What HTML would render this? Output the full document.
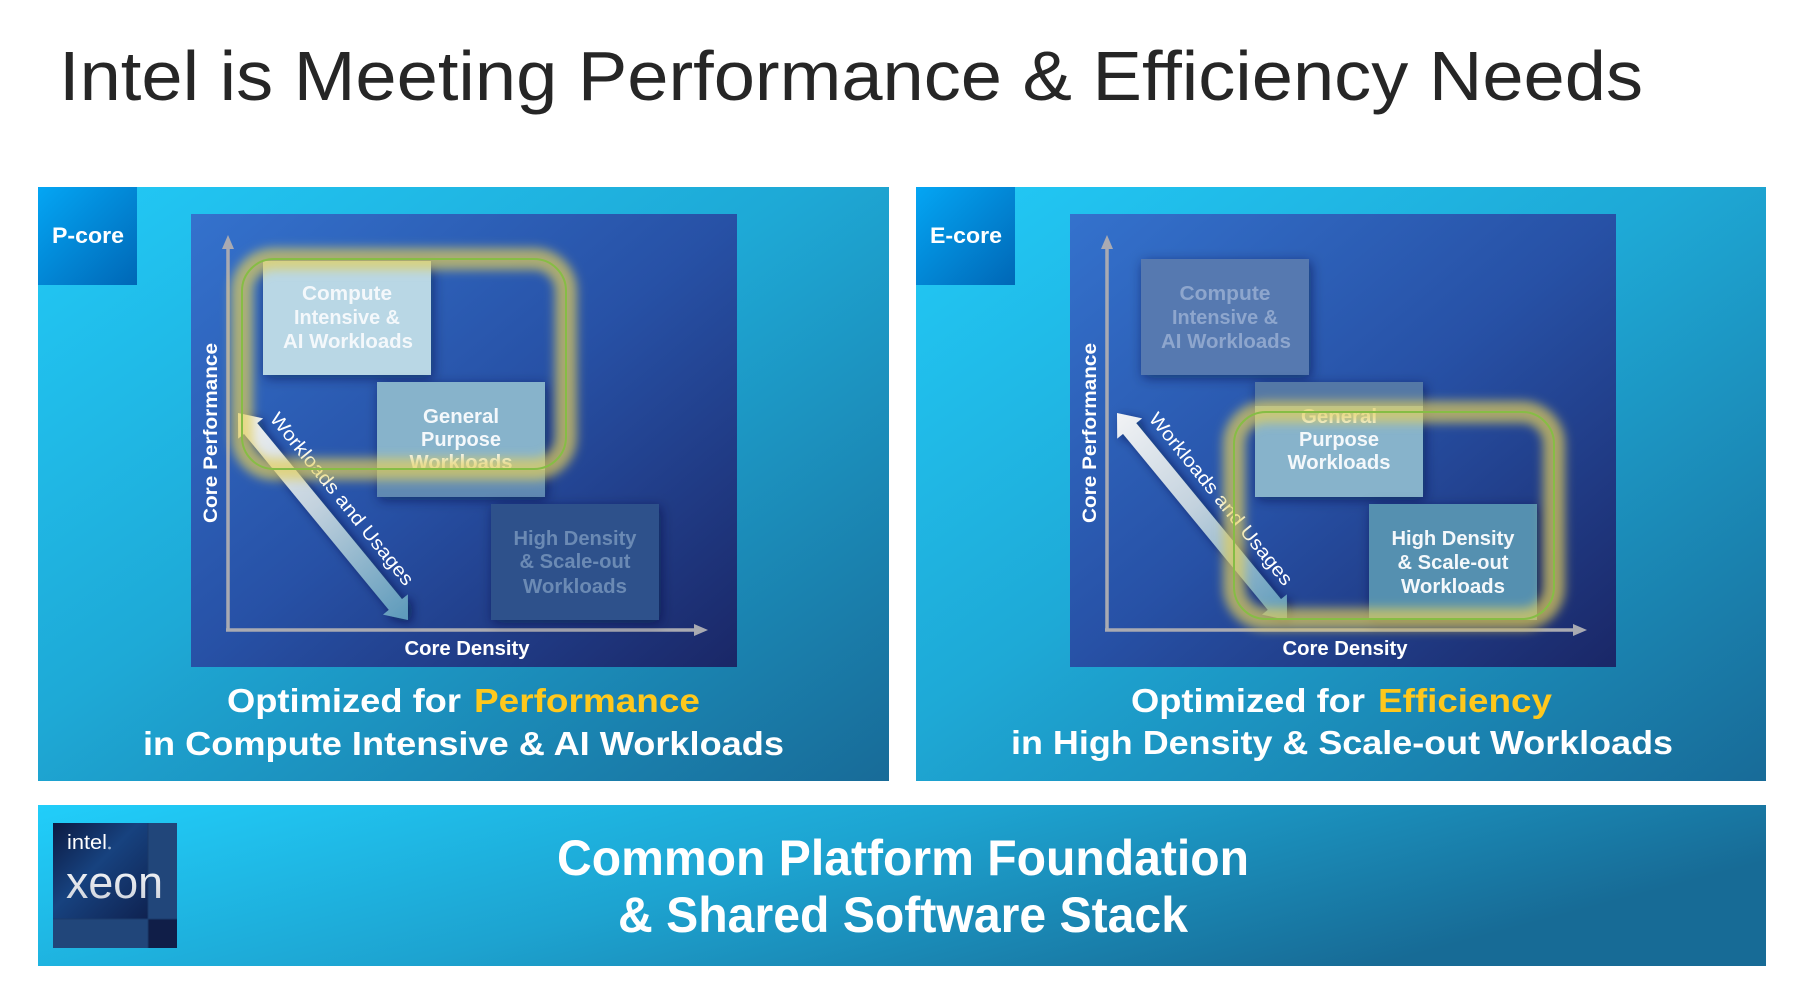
<!DOCTYPE html>
<html>
<head>
<meta charset="utf-8">
<style>
  html,body{margin:0;padding:0;background:#ffffff;}
  svg{display:block;}
  text{font-family:"Liberation Sans",Arial,sans-serif;}
</style>
</head>
<body>
<svg width="1803" height="998" viewBox="0 0 1803 998" xmlns="http://www.w3.org/2000/svg">
  <defs>
    <linearGradient id="panelGrad" x1="0" y1="0" x2="1" y2="1">
      <stop offset="0" stop-color="#22caf7"/>
      <stop offset="0.45" stop-color="#1ea9d6"/>
      <stop offset="1" stop-color="#186b98"/>
    </linearGradient>
    <linearGradient id="bandGrad" x1="0" y1="0" x2="1" y2="0.35">
      <stop offset="0" stop-color="#21cefa"/>
      <stop offset="0.5" stop-color="#1da3d0"/>
      <stop offset="1" stop-color="#176b96"/>
    </linearGradient>
    <linearGradient id="chartGrad" x1="0" y1="0" x2="1" y2="1">
      <stop offset="0" stop-color="#3472cd"/>
      <stop offset="0.5" stop-color="#2751a6"/>
      <stop offset="1" stop-color="#1a2767"/>
    </linearGradient>
    <linearGradient id="coreGrad" x1="0" y1="0" x2="1" y2="1">
      <stop offset="0" stop-color="#04a6f4"/>
      <stop offset="1" stop-color="#0067b6"/>
    </linearGradient>
    <linearGradient id="arrowGrad" gradientUnits="userSpaceOnUse" x1="238" y1="413" x2="408" y2="620">
      <stop offset="0" stop-color="#f2f3f5"/>
      <stop offset="0.45" stop-color="#c3d2de"/>
      <stop offset="1" stop-color="#5b99ba"/>
    </linearGradient>
    <linearGradient id="genLeftGrad" x1="0" y1="0" x2="0" y2="1">
      <stop offset="0" stop-color="#87b3cb"/>
      <stop offset="1" stop-color="#5f88b2"/>
    </linearGradient>
    <linearGradient id="xeonGrad" x1="0" y1="0" x2="1" y2="1">
      <stop offset="0" stop-color="#0c1a42"/>
      <stop offset="0.45" stop-color="#17427f"/>
      <stop offset="1" stop-color="#0f2250"/>
    </linearGradient>
    <linearGradient id="xeonText" x1="0" y1="0" x2="0" y2="1">
      <stop offset="0" stop-color="#ffffff"/>
      <stop offset="1" stop-color="#c9ced8"/>
    </linearGradient>
    <filter id="shadow" x="-30%" y="-30%" width="160%" height="160%">
      <feDropShadow dx="2" dy="3" stdDeviation="6" flood-color="#06123a" flood-opacity="0.55"/>
    </filter>
    <filter id="ashadow" x="-30%" y="-30%" width="160%" height="160%">
      <feDropShadow dx="4" dy="3" stdDeviation="5" flood-color="#06123a" flood-opacity="0.6"/>
    </filter>
    <filter id="glow" x="-20%" y="-20%" width="140%" height="140%">
      <feGaussianBlur stdDeviation="5"/>
    </filter>
  </defs>

  <!-- Title -->
  <text x="59" y="100" font-size="70" fill="#262626" textLength="1584" lengthAdjust="spacingAndGlyphs">Intel is Meeting Performance &amp; Efficiency Needs</text>

  <!-- Panels -->
  <rect x="38" y="187" width="851" height="594" fill="url(#panelGrad)"/>
  <rect x="916" y="187" width="850" height="594" fill="url(#panelGrad)"/>

  <!-- Core badges -->
  <rect x="38" y="187" width="99" height="98" fill="url(#coreGrad)"/>
  <text x="52" y="243" font-size="22" font-weight="bold" fill="#ffffff" textLength="72" lengthAdjust="spacingAndGlyphs">P-core</text>
  <rect x="916" y="187" width="99" height="98" fill="url(#coreGrad)"/>
  <text x="930" y="243" font-size="22" font-weight="bold" fill="#ffffff" textLength="72" lengthAdjust="spacingAndGlyphs">E-core</text>

  <!-- ===== LEFT CHART ===== -->
  <rect x="191" y="214" width="546" height="453" fill="url(#chartGrad)"/>
  <line x1="228" y1="246" x2="228" y2="631" stroke="#a9aab2" stroke-width="3.5"/>
  <polygon points="228,235 222,249 234,249" fill="#a9aab2"/>
  <line x1="226" y1="630" x2="696" y2="630" stroke="#a9aab2" stroke-width="3.5"/>
  <polygon points="708,630 694,624 694,636" fill="#a9aab2"/>
  <text transform="translate(217,433) rotate(-90)" text-anchor="middle" font-size="19" font-weight="bold" fill="#ffffff" textLength="180" lengthAdjust="spacingAndGlyphs">Core Performance</text>
  <text x="467" y="655" text-anchor="middle" font-size="20" font-weight="bold" fill="#ffffff" textLength="125" lengthAdjust="spacingAndGlyphs">Core Density</text>

  <g filter="url(#shadow)">
    <rect x="263" y="261" width="168" height="114" fill="#b9d7e5"/>
  </g>
  <g filter="url(#shadow)">
    <rect x="377" y="382" width="168" height="115" fill="url(#genLeftGrad)"/>
  </g>
  <rect x="377" y="382" width="168" height="88" fill="#87b3cb"/>
  <g filter="url(#shadow)">
    <rect x="491" y="504" width="168" height="116" fill="#2d518b"/>
  </g>
  <g font-size="20" font-weight="bold" text-anchor="middle" fill="#f4f8fb">
    <text x="347" y="300" textLength="90" lengthAdjust="spacingAndGlyphs">Compute</text>
    <text x="347" y="324" textLength="106" lengthAdjust="spacingAndGlyphs">Intensive &amp;</text>
    <text x="348" y="348" textLength="130" lengthAdjust="spacingAndGlyphs">AI Workloads</text>
    <text x="461" y="423" textLength="76" lengthAdjust="spacingAndGlyphs">General</text>
    <text x="461" y="446" textLength="80" lengthAdjust="spacingAndGlyphs">Purpose</text>
    <text x="461" y="469" textLength="103" lengthAdjust="spacingAndGlyphs">Workloads</text>
  </g>
  <g font-size="20" font-weight="bold" text-anchor="middle" fill="#6b8ab4">
    <text x="575" y="545" textLength="123" lengthAdjust="spacingAndGlyphs">High Density</text>
    <text x="575" y="568" textLength="111" lengthAdjust="spacingAndGlyphs">&amp; Scale-out</text>
    <text x="575" y="593" textLength="104" lengthAdjust="spacingAndGlyphs">Workloads</text>
  </g>

  <!-- arrow left -->
  <polygon filter="url(#ashadow)" fill="url(#arrowGrad)" points="238,413 263.1,418.4 257.2,423.1 402.0,599.1 407.9,594.4 408,620 383.0,614.6 388.8,609.9 244.0,433.9 238.2,438.6"/>
  <text transform="translate(269,419) rotate(51)" font-size="19" fill="#ffffff" textLength="216" lengthAdjust="spacingAndGlyphs">Workloads and Usages</text>

  <!-- glow left -->
  <rect x="242" y="259" width="324" height="210" rx="32" ry="32" fill="none" stroke="#e2cf58" stroke-width="22" stroke-opacity="0.7" filter="url(#glow)"/>
  <rect x="242" y="259" width="324" height="210" rx="32" ry="32" fill="none" stroke="#86bd45" stroke-width="2"/>

  <!-- ===== RIGHT CHART ===== -->
  <g transform="translate(879,0)">
    <rect x="191" y="214" width="546" height="453" fill="url(#chartGrad)"/>
    <line x1="228" y1="246" x2="228" y2="631" stroke="#a9aab2" stroke-width="3.5"/>
    <polygon points="228,235 222,249 234,249" fill="#a9aab2"/>
    <line x1="226" y1="630" x2="696" y2="630" stroke="#a9aab2" stroke-width="3.5"/>
    <polygon points="708,630 694,624 694,636" fill="#a9aab2"/>
    <text transform="translate(217,433) rotate(-90)" text-anchor="middle" font-size="19" font-weight="bold" fill="#ffffff" textLength="180" lengthAdjust="spacingAndGlyphs">Core Performance</text>
    <text x="466" y="655" text-anchor="middle" font-size="20" font-weight="bold" fill="#ffffff" textLength="125" lengthAdjust="spacingAndGlyphs">Core Density</text>

    <g filter="url(#shadow)">
      <rect x="262" y="259" width="168" height="116" fill="#5779b0"/>
    </g>
    <g filter="url(#shadow)">
      <rect x="376" y="382" width="168" height="115" fill="#87b3cb"/>
    </g>
    <rect x="376" y="382" width="168" height="24" fill="#5478a6"/>
    <g filter="url(#shadow)">
      <rect x="490" y="504" width="168" height="116" fill="#5590b0"/>
    </g>
    <g font-size="20" font-weight="bold" text-anchor="middle" fill="#8ea6cd">
      <text x="346" y="300" textLength="91" lengthAdjust="spacingAndGlyphs">Compute</text>
      <text x="346" y="324" textLength="106" lengthAdjust="spacingAndGlyphs">Intensive &amp;</text>
      <text x="347" y="348" textLength="130" lengthAdjust="spacingAndGlyphs">AI Workloads</text>
    </g>
    <g font-size="20" font-weight="bold" text-anchor="middle" fill="#f4f8fb">
      <text x="460" y="423" textLength="76" lengthAdjust="spacingAndGlyphs">General</text>
      <text x="460" y="446" textLength="80" lengthAdjust="spacingAndGlyphs">Purpose</text>
      <text x="460" y="469" textLength="103" lengthAdjust="spacingAndGlyphs">Workloads</text>
      <text x="574" y="545" textLength="123" lengthAdjust="spacingAndGlyphs">High Density</text>
      <text x="574" y="569" textLength="111" lengthAdjust="spacingAndGlyphs">&amp; Scale-out</text>
      <text x="574" y="593" textLength="104" lengthAdjust="spacingAndGlyphs">Workloads</text>
    </g>

    <polygon filter="url(#ashadow)" fill="url(#arrowGrad)" points="238,413 263.1,418.4 257.2,423.1 402.0,599.1 407.9,594.4 408,620 383.0,614.6 388.8,609.9 244.0,433.9 238.2,438.6"/>
    <text transform="translate(269,419) rotate(51)" font-size="19" fill="#ffffff" textLength="216" lengthAdjust="spacingAndGlyphs">Workloads and Usages</text>
  </g>
  <!-- glow right -->
  <rect x="1234" y="412" width="320" height="207" rx="32" ry="32" fill="none" stroke="#e2cf58" stroke-width="22" stroke-opacity="0.7" filter="url(#glow)"/>
  <rect x="1234" y="412" width="320" height="207" rx="32" ry="32" fill="none" stroke="#86bd45" stroke-width="2"/>

  <!-- Captions -->
  <g font-size="33" font-weight="bold">
    <text x="227" y="712" fill="#ffffff" textLength="234" lengthAdjust="spacingAndGlyphs">Optimized for</text>
    <text x="474" y="712" fill="#ffc81c" textLength="226" lengthAdjust="spacingAndGlyphs">Performance</text>
    <text x="143" y="755" fill="#ffffff" textLength="641" lengthAdjust="spacingAndGlyphs">in Compute Intensive &amp; AI Workloads</text>
    <text x="1131" y="712" fill="#ffffff" textLength="234" lengthAdjust="spacingAndGlyphs">Optimized for</text>
    <text x="1378" y="712" fill="#ffc81c" textLength="174" lengthAdjust="spacingAndGlyphs">Efficiency</text>
    <text x="1011" y="754" fill="#ffffff" textLength="662" lengthAdjust="spacingAndGlyphs">in High Density &amp; Scale-out Workloads</text>
  </g>

  <!-- Bottom band -->
  <rect x="38" y="805" width="1728" height="161" fill="url(#bandGrad)"/>
  <rect x="53" y="823" width="124" height="125" fill="#21467a"/>
  <rect x="53" y="823" width="95" height="96" fill="url(#xeonGrad)"/>
  <rect x="148" y="919" width="29" height="29" fill="#101e48"/>
  <line x1="148" y1="823" x2="148" y2="948" stroke="#1a3a6a" stroke-width="1"/>
  <line x1="53" y1="919" x2="177" y2="919" stroke="#1a3a6a" stroke-width="1"/>
  <text x="67" y="849" font-size="20" fill="#ffffff" textLength="40" lengthAdjust="spacingAndGlyphs">intel</text>
  <circle cx="109.5" cy="848" r="1.4" fill="#9fb3cc"/>
  <text x="66" y="898" font-size="45" fill="url(#xeonText)" textLength="97" lengthAdjust="spacingAndGlyphs">xeon</text>

  <g font-size="50" font-weight="bold" fill="#ffffff">
    <text x="557" y="875" textLength="692" lengthAdjust="spacingAndGlyphs">Common Platform Foundation</text>
    <text x="618" y="932" textLength="570" lengthAdjust="spacingAndGlyphs">&amp; Shared Software Stack</text>
  </g>
</svg>
</body>
</html>
